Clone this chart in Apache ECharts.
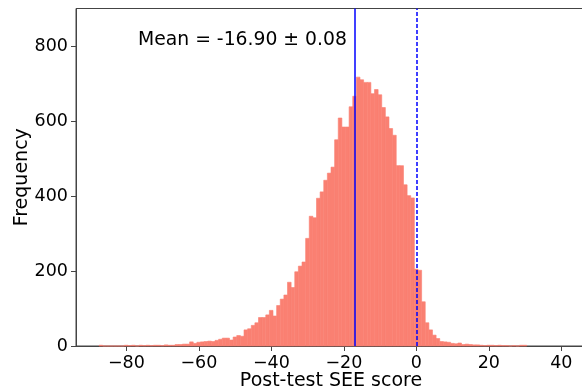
<!DOCTYPE html>
<html>
<head>
<meta charset="utf-8">
<script src="https://cdn.jsdelivr.net/npm/echarts@6/dist/echarts.min.js"></script>
<style>
  html, body {margin: 0; padding: 0; background: #fff;}
  #chart {width: 582px; height: 390px;}
</style>
</head>
<body>
<div id="chart"></div>
<script>
// histogram bins: left edge of first bin and common width
const binStart = -87.55;
const binWidth = 1.0;
const counts = [
  2, 0, 0, 0, 0, 0, 0, 2, 1, 2,
  0, 2, 1, 2, 1, 2, 2, 1, 3, 2,
  2, 4, 4, 5, 5, 11, 7, 10, 11, 12,
  13, 12, 15, 18, 21, 21, 16, 24, 28, 26,
  43, 46, 55, 62, 76, 76, 83, 95, 80, 108,
  125, 136, 170, 156, 198, 213, 224, 287, 346, 342,
  394, 411, 442, 461, 477, 550, 608, 584, 584, 638,
  666, 717, 710, 703, 703, 673, 684, 670, 636, 611,
  580, 562, 481, 481, 430, 401, 395, 205, 202, 118,
  62, 43, 29, 20, 12, 11, 10, 7, 6, 8,
  4, 5, 4, 3, 3, 2, 1, 2, 2, 1,
  2, 1, 1, 0, 1, 0, 2, 2
];
const xTicks = [-80, -60, -40, -20, 0, 20, 40];
const yTicks = [0, 200, 400, 600, 800];
const meanValue = -16.90;
const zeroValue = 0;
const meanText = 'Mean = -16.90 ± 0.08';

const bins = counts.map((c, i) => [binStart + i * binWidth, binStart + (i + 1) * binWidth, c]);

const font = 'DejaVu Sans';
const minus = v => String(v).replace('-', '\u2212');

const myChart = echarts.init(document.getElementById('chart'));
myChart.setOption({
  animation: false,
  grid: {
    left: 76, right: -4, top: 8.5, bottom: 44,
    outerBoundsMode: 'none',
    containLabel: false,
    show: true, borderColor: '#444', borderWidth: 1
  },
  xAxis: {
    type: 'value',
    min: -93.9,
    max: 46.8,
    splitLine: {show: false},
    axisLine: {onZero: false, lineStyle: {color: '#444', width: 1}},
    axisTick: {customValues: xTicks, length: 5, lineStyle: {color: '#444'}},
    axisLabel: {
      customValues: xTicks,
      formatter: minus,
      color: '#000', fontFamily: font, fontSize: 17.5, margin: 8
    },
    name: 'Post-test SEE score',
    nameLocation: 'middle',
    nameGap: 26,
    nameMoveOverlap: false,
    nameTextStyle: {color: '#000', fontFamily: font, fontSize: 19, verticalAlign: 'top'}
  },
  yAxis: {
    type: 'value',
    min: 0,
    max: 900,
    splitLine: {show: false},
    axisLine: {show: true, onZero: false, lineStyle: {color: '#444', width: 1}},
    axisTick: {show: true, customValues: yTicks, length: 5, lineStyle: {color: '#444'}},
    axisLabel: {
      customValues: yTicks,
      color: '#000', fontFamily: font, fontSize: 17.5, margin: 8
    },
    name: 'Frequency',
    nameLocation: 'middle',
    nameGap: 54,
    nameMoveOverlap: false,
    nameTextStyle: {color: '#000', fontFamily: font, fontSize: 19, verticalAlign: 'middle'}
  },
  series: [{
    type: 'custom',
    data: bins,
    encode: {x: [0, 1], y: 2},
    renderItem(params, api) {
      const p0 = api.coord([api.value(0), 0]);
      const p1 = api.coord([api.value(1), api.value(2)]);
      return {
        type: 'rect',
        shape: {x: p0[0], y: p1[1], width: p1[0] - p0[0], height: p0[1] - p1[1]},
        style: {fill: '#FA8072', stroke: '#FA8072', lineWidth: 0.6}
      };
    },
    markLine: {
      silent: true,
      symbol: 'none',
      label: {show: false},
      data: [
        {xAxis: meanValue, lineStyle: {color: '#0000ff', width: 1.5, type: 'solid'}},
        {xAxis: zeroValue, lineStyle: {color: '#0000ff', width: 1.5, type: [4, 2]}}
      ]
    }
  }],
  graphic: [{
    type: 'text',
    left: 138,
    top: 31,
    style: {text: meanText, fill: '#000', font: '18.8px "DejaVu Sans"'}
  }]
});
</script>
</body>
</html>
